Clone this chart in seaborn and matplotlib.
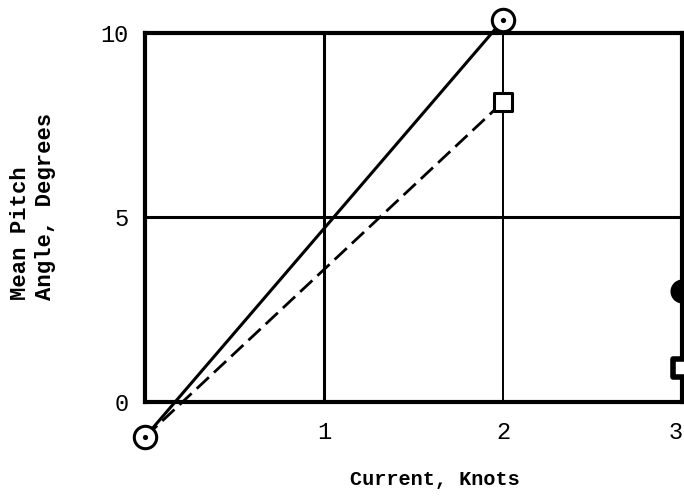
import matplotlib
matplotlib.use("Agg")
import matplotlib.pyplot as plt
import matplotlib.transforms as mtransforms
import seaborn as sns
import pandas as pd

# Data
current = [0, 2]
pitch_circle = [-0.95, 10.35]   # open circles, solid line
pitch_square = [-0.95, 8.13]    # open squares, dashed line
current_filled = [3, 3]
pitch_filled = [3.0, 0.92]      # filled circle, filled square
xticks = [1, 2, 3]
yticks = [0, 5, 10]

sns.set_theme(style="white")
plt.rcParams['font.family'] = ['Liberation Mono', 'DejaVu Sans Mono']

fig = plt.figure(figsize=(6.84, 4.98), dpi=100)
ax = fig.add_axes([145/684, (498-402)/498, (682-145)/684, (402-33)/498])

df_c = pd.DataFrame({"x": current, "y": pitch_circle})
df_s = pd.DataFrame({"x": current, "y": pitch_square})

# grid lines
ax.axvline(1, color="black", lw=2.2, zorder=1)
ax.axvline(2, color="black", lw=1.4, zorder=1)
ax.axhline(5, color="black", lw=2.2, zorder=1)

sns.lineplot(data=df_c, x="x", y="y", ax=ax, color="black", lw=2.2,
             clip_on=False, zorder=3, estimator=None)
sns.lineplot(data=df_s, x="x", y="y", ax=ax, color="black", lw=2.0,
             linestyle=(0, (6, 2.5)), clip_on=False, zorder=3, estimator=None)

# open circles with center dot
sns.scatterplot(data=df_c, x="x", y="y", ax=ax, marker="o", s=260,
                facecolor="white", edgecolor="black", linewidth=2.2,
                clip_on=False, zorder=5)
sns.scatterplot(data=df_c, x="x", y="y", ax=ax, marker="o", s=14,
                color="black", linewidth=0, clip_on=False, zorder=6)
# open square (only at x=2)
sns.scatterplot(x=[current[1]], y=[pitch_square[1]], ax=ax, marker="s", s=170,
                facecolor="white", edgecolor="black", linewidth=2.2,
                clip_on=False, zorder=5)
# filled markers at x=3
sns.scatterplot(x=[current_filled[0]], y=[pitch_filled[0]], ax=ax, marker="o",
                s=300, color="black", linewidth=0, clip_on=False, zorder=5)
sns.scatterplot(x=[current_filled[1]], y=[pitch_filled[1]], ax=ax, marker="s",
                s=170, facecolor="white", edgecolor="black", linewidth=4,
                clip_on=False, zorder=5)

ax.set_xlim(0, 3)
ax.set_ylim(0, 10)
ax.set_xticks(xticks)
ax.set_xticklabels([str(t) for t in xticks])
ax.set_yticks(yticks)
ax.set_yticklabels([str(t) for t in yticks])
ax.tick_params(axis="both", length=0, labelsize=17, colors="black")
ax.tick_params(axis="x", pad=14)
ax.tick_params(axis="y", pad=12)

# shift last x label so it stays inside the figure
lbl = ax.get_xticklabels()[-1]
lbl.set_transform(lbl.get_transform() + mtransforms.ScaledTranslation(-6/100, 0, fig.dpi_scale_trans))

for sp in ax.spines.values():
    sp.set_visible(True)
    sp.set_color("black")
    sp.set_linewidth(3)

ax.set_xlabel("Current, Knots", fontsize=14.5, color="black", fontweight="bold")
ax.xaxis.set_label_coords(0.54, -0.185)
ax.set_ylabel("Mean Pitch\nAngle, Degrees", fontsize=16, color="black",
              multialignment="left", fontweight="bold", linespacing=1.25)
ax.yaxis.set_label_coords(-0.165, 0.53)

fig.savefig("out.png", dpi=100)
